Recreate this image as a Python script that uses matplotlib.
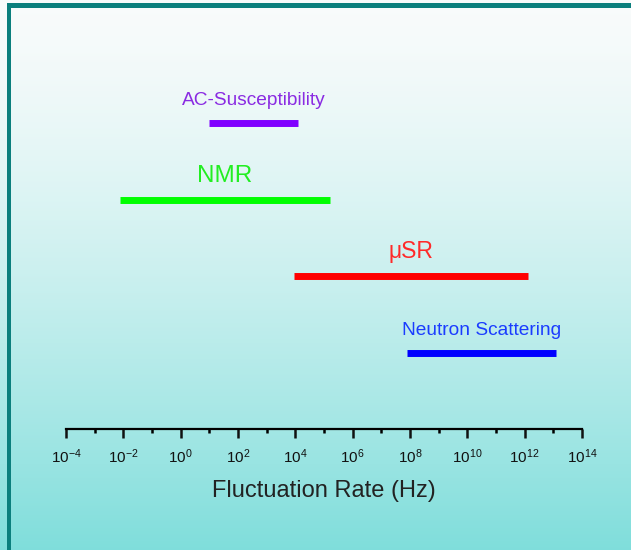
import numpy as np
import matplotlib
matplotlib.use('Agg')
import matplotlib.pyplot as plt
from matplotlib.patches import Rectangle

plt.rcParams['font.family'] = ['Liberation Sans', 'DejaVu Sans']
plt.rcParams['mathtext.fontset'] = 'custom'
plt.rcParams['mathtext.rm'] = 'Liberation Sans'
plt.rcParams['mathtext.it'] = 'Liberation Sans:italic'
plt.rcParams['mathtext.bf'] = 'Liberation Sans:bold'

# technique ranges (log10 of Hz)
techniques = ['AC-Susceptibility', 'NMR', '\u03bcSR', 'Neutron Scattering']
low_exp = [1.0, -2.1, 3.95, 7.9]
high_exp = [4.1, 5.2, 12.1, 13.1]
levels = [4, 3, 2, 1]
colors = ['#8000ff', '#00ff00', '#ff0000', '#0000ff']
text_colors = ['#8a2be2', '#22ee22', '#ff2a2a', '#1a3cff']
font_sizes = [13.8, 17.5, 16.5, 13.8]
major_exp = list(range(-4, 15, 2))
minor_exp = list(range(-3, 14, 2))

fig = plt.figure(figsize=(6.31, 5.5), dpi=100)

# gradient background
bg = fig.add_axes([0, 0, 1, 1], zorder=-2)
t = np.linspace(0, 1, 300) ** 1.4
top = np.array([0.975, 0.985, 0.985])
bot = np.array([0.50, 0.87, 0.86])
grad = top[None, :] * (1 - t[:, None]) + bot[None, :] * t[:, None]
bg.imshow(grad[:, None, :], aspect='auto', extent=[0, 1, 0, 1], origin='upper')
bg.set_axis_off()

# frame on top and left
border = '#0b7f7d'
fig.add_artist(Rectangle((7 / 631, 542.5 / 550), 1, 4 / 550, transform=fig.transFigure,
                         color=border, lw=0))
fig.add_artist(Rectangle((7 / 631, 0), 4 / 631, 546.5 / 550, transform=fig.transFigure,
                         color=border, lw=0))

ax = fig.add_axes([66 / 631, 121 / 550, 516 / 631, 344 / 550])
ax.patch.set_alpha(0)
ax.set_xscale('log')
ax.set_xlim(1e-4, 1e14)
ax.set_ylim(0, 4.5)

for name, lo, hi, lev, c, tc, fs in zip(techniques, low_exp, high_exp, levels,
                                        colors, text_colors, font_sizes):
    ax.hlines(lev, 10.0 ** lo, 10.0 ** hi, color=c, lw=5, capstyle='butt')
    ax.text(10.0 ** ((lo + hi) / 2), lev + 0.235, name, color=tc, fontsize=fs,
            ha='center', va='baseline')

for s in ['left', 'right', 'top']:
    ax.spines[s].set_visible(False)
ax.spines['bottom'].set_linewidth(1.6)
ax.set_yticks([])

ax.set_xticks([10.0 ** e for e in major_exp])
ax.set_xticklabels(['$\\mathdefault{10^{%d}}$' % e for e in major_exp])
ax.set_xticks([10.0 ** e for e in minor_exp], minor=True)
ax.xaxis.set_minor_formatter(plt.NullFormatter())
ax.tick_params(axis='x', which='major', direction='out', length=6.5, width=1.8,
               labelsize=11, pad=7, colors='#111111')
ax.tick_params(axis='x', which='minor', direction='out', length=3, width=1.8)
ax.set_xlabel('Fluctuation Rate (Hz)', fontsize=17, color='#222222', labelpad=10)

fig.savefig('out.png', dpi=100)
